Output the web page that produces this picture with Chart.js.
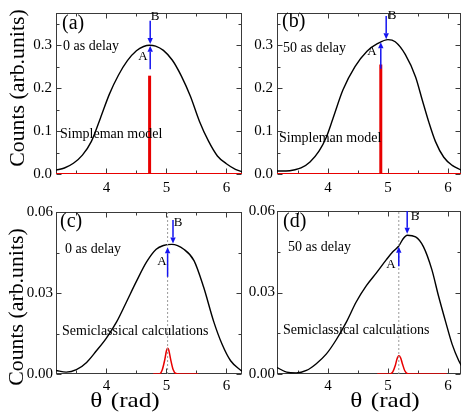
<!DOCTYPE html>
<html>
<head>
<meta charset="utf-8">
<script src="https://cdn.jsdelivr.net/npm/chart.js@4.4.1/dist/chart.umd.min.js"></script>
<style>
  html, body { margin: 0; padding: 0; background: #fff; }
  #fig { position: relative; width: 462px; height: 412px; overflow: hidden;
         font-family: 'Liberation Serif', 'Times New Roman', serif; color: #000; }
  #fig canvas { position: absolute; }
  .t { position: absolute; white-space: nowrap; line-height: 1; transform: translateY(-50%); }
  .note { font-size: 14px; }
  .tag { font-size: 20px; }
  .ab { font-size: 13px; transform: translate(-50%, -50%); }
  .ytitle { font-size: 20px; transform: translate(-50%, -50%) rotate(-90deg) scaleX(1.09); }
  .xtitle { font-size: 21px; transform: translate(-50%, -50%) scaleX(1.2); }
  .xtitle span { margin-right: 7px; }
</style>
</head>
<body>
<div id="fig">
  <canvas id="pa" width="245" height="200" style="left:0;top:0"></canvas>
  <canvas id="pb" width="217" height="200" style="left:245px;top:0"></canvas>
  <canvas id="pc" width="245" height="212" style="left:0;top:200px"></canvas>
  <canvas id="pd" width="217" height="212" style="left:245px;top:200px"></canvas>

  <div class="t ytitle" style="left:17px;top:88px">Counts (arb.units)</div>
  <div class="t ytitle" style="left:16px;top:307px">Counts (arb.units)</div>
  <div class="t xtitle" style="left:125px;top:400px"><span>θ</span>(rad)</div>
  <div class="t xtitle" style="left:385px;top:400px"><span>θ</span>(rad)</div>

  <div class="t tag" style="left:62px;top:22px">(a)</div>
  <div class="t note" style="left:63px;top:46px">0 as delay</div>
  <div class="t note" style="left:60px;top:134px">Simpleman model</div>
  <div class="t ab" style="left:155px;top:15px">B</div>
  <div class="t ab" style="left:143px;top:55px">A</div>

  <div class="t tag" style="left:282px;top:20px">(b)</div>
  <div class="t note" style="left:283px;top:48px">50 as delay</div>
  <div class="t note" style="left:279px;top:138px">Simpleman model</div>
  <div class="t ab" style="left:392px;top:14px">B</div>
  <div class="t ab" style="left:372px;top:50px">A</div>

  <div class="t tag" style="left:60px;top:220px">(c)</div>
  <div class="t note" style="left:65px;top:249px">0 as delay</div>
  <div class="t note" style="left:62px;top:331px">Semiclassical calculations</div>
  <div class="t ab" style="left:178px;top:221px">B</div>
  <div class="t ab" style="left:162px;top:260px">A</div>

  <div class="t tag" style="left:283px;top:220px">(d)</div>
  <div class="t note" style="left:288px;top:247px">50 as delay</div>
  <div class="t note" style="left:283px;top:330px">Semiclassical calculations</div>
  <div class="t ab" style="left:415px;top:215px">B</div>
  <div class="t ab" style="left:391px;top:263px">A</div>
</div>

<script>
'use strict';

/* ---- values ---- */

// (a) Simpleman model, 0 as delay
const THETA_A  = [3.16, 3.3, 3.45, 3.6, 3.75, 3.9, 4.05, 4.2, 4.35, 4.5, 4.62, 4.72, 4.82, 4.95, 5.1, 5.25, 5.4, 5.55, 5.7, 5.85, 6.0, 6.15, 6.27];
const COUNTS_A = [0.009, 0.014, 0.025, 0.044, 0.076, 0.130, 0.186, 0.230, 0.264, 0.287, 0.297, 0.300, 0.298, 0.288, 0.265, 0.228, 0.181, 0.123, 0.077, 0.042, 0.024, 0.011, 0.005];
const SPIKE_A  = [4.72, 0.229];                 // theta, height of the red line
const ARROWS_A = [[4.73, 0.244, 0.299], [4.73, 0.357, 0.303]];   // theta, tail, tip

// (b) Simpleman model, 50 as delay
const THETA_B  = [3.15, 3.3, 3.45, 3.55, 3.7, 3.85, 3.97, 4.08, 4.25, 4.45, 4.65, 4.83, 5.0, 5.12, 5.29, 5.46, 5.57, 5.68, 5.79, 5.93, 6.07, 6.22];
const COUNTS_B = [0.007, 0.007, 0.010, 0.014, 0.028, 0.053, 0.085, 0.128, 0.196, 0.250, 0.286, 0.304, 0.313, 0.308, 0.278, 0.226, 0.173, 0.121, 0.076, 0.039, 0.020, 0.009];
const SPIKE_B  = [4.88, 0.255];
const ARROWS_B = [[4.88, 0.245, 0.307], [4.97, 0.368, 0.314]];

// (c) semiclassical, 0 as delay
const THETA_C  = [3.16, 3.33, 3.5, 3.67, 3.83, 4.0, 4.17, 4.33, 4.5, 4.67, 4.83, 4.95, 5.09, 5.29, 5.46, 5.62, 5.79, 5.93, 6.07, 6.26];
const COUNTS_C = [0.0013, 0.0007, 0.0016, 0.0043, 0.0085, 0.0133, 0.0193, 0.0265, 0.0343, 0.0415, 0.0462, 0.0476, 0.0480, 0.0462, 0.0420, 0.0322, 0.0193, 0.0109, 0.0049, 0.0010];
const THETA_C_RED = [4.78, 4.88, 4.93, 4.97, 5.0, 5.02, 5.04, 5.07, 5.11, 5.16, 5.25, 5.53];
const RED_C       = [0, 0, 0.0015, 0.0050, 0.0085, 0.0095, 0.0088, 0.0055, 0.0018, 0.0002, 0, 0];
const MARK_C   = 5.02;                          // dotted line
const ARROWS_C = [[5.02, 0.036, 0.0469], [5.11, 0.057, 0.0483]];

// (d) semiclassical, 50 as delay
const THETA_D  = [3.14, 3.31, 3.47, 3.64, 3.8, 3.97, 4.14, 4.31, 4.47, 4.64, 4.81, 4.97, 5.08, 5.18, 5.25, 5.32, 5.46, 5.59, 5.73, 5.84, 5.96, 6.07, 6.18, 6.24];
const COUNTS_D = [0.0025, 0.0007, 0.0004, 0.0013, 0.0037, 0.0073, 0.0127, 0.0193, 0.0265, 0.0325, 0.0373, 0.0420, 0.0450, 0.0471, 0.0497, 0.0511, 0.0505, 0.0469, 0.0385, 0.0289, 0.0193, 0.0109, 0.0049, 0.0025];
const THETA_D_RED = [4.82, 5.03, 5.08, 5.12, 5.15, 5.18, 5.21, 5.24, 5.28, 5.33, 5.45, 5.98];
const RED_D       = [0, 0, 0.0008, 0.0030, 0.0055, 0.0067, 0.0060, 0.0038, 0.0012, 0.0001, 0, 0];
const MARK_D   = 5.18;
const ARROWS_D = [[5.18, 0.0397, 0.0468], [5.32, 0.060, 0.0516]];

// axes
const X_TICKS = [4, 5, 6];
const X_LABELS = ['4', '5', '6'];
const X_MINOR = [3.5, 4.5, 5.5];
const Y_TICKS_TOP = [0, 0.1, 0.2, 0.3];
const Y_LABELS_TOP = ['0.0', '0.1', '0.2', '0.3'];
const Y_MINOR_TOP = [0.05, 0.15, 0.25, 0.35];
const Y_TICKS_BOT = [0, 0.03, 0.06];
const Y_LABELS_BOT = ['0.00', '0.03', '0.06'];
const Y_MINOR_BOT = [0.015, 0.045];

/* ---- styling ---- */
const RED = 'rgb(232,0,0)';
const BLUE = 'rgb(20,20,240)';
const FRAME = '#3a3a3a';
const TICK_FONT = { family: "'Liberation Serif', 'Times New Roman', serif", size: 15 };

const pts = (xs, ys) => xs.map((x, i) => ({ x, y: ys[i] }));

function curve(xs, ys, color, width) {
  return { data: pts(xs, ys), showLine: true, borderColor: color, borderWidth: width,
           pointRadius: 0, cubicInterpolationMode: 'monotone', fill: false };
}
function segment(x0, y0, x1, y1, color, width, dash) {
  return { data: [{ x: x0, y: y0 }, { x: x1, y: y1 }], showLine: true, borderColor: color,
           borderWidth: width, borderDash: dash || [], pointRadius: 0, fill: false };
}

// frame + inward ticks on all four sides, and the blue arrows
function panelPlugin(yMajor, yMinor, arrows) {
  return {
    id: 'panel',
    beforeDatasetsDraw(chart) {
      const { ctx, chartArea: a, scales: { x, y } } = chart;
      const L = Math.round(a.left) + 0.5, R = Math.round(a.right) - 0.5;
      const T = Math.round(a.top) + 0.5, B = Math.round(a.bottom) - 0.5;
      ctx.save();
      ctx.strokeStyle = FRAME;
      ctx.lineWidth = 1;
      ctx.strokeRect(L, T, R - L, B - T);
      ctx.beginPath();
      const xt = (vals, len) => vals.forEach(v => {
        const px = Math.round(x.getPixelForValue(v)) + 0.5;
        ctx.moveTo(px, B); ctx.lineTo(px, B - len);
        ctx.moveTo(px, T); ctx.lineTo(px, T + len);
      });
      const yt = (vals, len) => vals.forEach(v => {
        if (v > y.max) return;
        const py = Math.round(y.getPixelForValue(v)) + 0.5;
        ctx.moveTo(L, py); ctx.lineTo(L + len, py);
        ctx.moveTo(R, py); ctx.lineTo(R - len, py);
      });
      xt(X_TICKS, 5); xt(X_MINOR, 3);
      yt(yMajor, 5); yt(yMinor, 3);
      ctx.stroke();
      ctx.restore();
    },
    afterDatasetsDraw(chart) {
      const { ctx, scales: { x, y } } = chart;
      ctx.save();
      ctx.strokeStyle = BLUE;
      ctx.fillStyle = BLUE;
      ctx.lineWidth = 1.5;
      arrows.forEach(([t, tail, tip]) => {
        const px = x.getPixelForValue(t);
        const ya = y.getPixelForValue(tail), yb = y.getPixelForValue(tip);
        const dir = Math.sign(yb - ya), head = 6;
        ctx.beginPath();
        ctx.moveTo(px, ya); ctx.lineTo(px, yb - dir * head);
        ctx.stroke();
        ctx.beginPath();
        ctx.moveTo(px, yb);
        ctx.lineTo(px - 2.7, yb - dir * head);
        ctx.lineTo(px + 2.7, yb - dir * head);
        ctx.closePath();
        ctx.fill();
      });
      ctx.restore();
    },
  };
}

function makePanel(id, p) {
  new Chart(document.getElementById(id), {
    type: 'scatter',
    data: { datasets: p.datasets },
    options: {
      responsive: false,
      animation: false,
      events: [],
      layout: { padding: p.padding },
      plugins: { legend: { display: false }, tooltip: { enabled: false } },
      scales: {
        x: {
          type: 'linear', min: p.xMin, max: p.xMax,
          afterBuildTicks: s => { s.ticks = X_TICKS.map(v => ({ value: v })); },
          afterFit: s => { s.height = p.xHeight; },
          grid: { display: false, drawTicks: false }, border: { display: false },
          ticks: { font: TICK_FONT, color: '#000', padding: p.xPad, maxRotation: 0,
                   callback: v => X_LABELS[X_TICKS.indexOf(v)] },
        },
        y: {
          type: 'linear', min: 0, max: p.yMax,
          afterBuildTicks: s => { s.ticks = p.yTicks.map(v => ({ value: v })); },
          afterFit: s => { s.width = p.yWidth; },
          grid: { display: false, drawTicks: false }, border: { display: false },
          ticks: { font: TICK_FONT, color: '#000', padding: p.yPad,
                   callback: v => p.yLabels[p.yTicks.indexOf(v)] },
        },
      },
    },
    plugins: [panelPlugin(p.yTicks, p.yMinor, p.arrows)],
  });
}

const TOP = { yMax: 0.375, yTicks: Y_TICKS_TOP, yLabels: Y_LABELS_TOP, yMinor: Y_MINOR_TOP, xHeight: 26, xPad: 5 };
const BOT = { yMax: 0.06, yTicks: Y_TICKS_BOT, yLabels: Y_LABELS_BOT, yMinor: Y_MINOR_BOT, xHeight: 38, xPad: 3 };

makePanel('pa', Object.assign({}, TOP, {
  xMin: 3.16, xMax: 6.26, yWidth: 56, yPad: 4,
  padding: { top: 7, right: 3, left: 0, bottom: 0 },
  arrows: ARROWS_A,
  datasets: [
    segment(3.16, 0, 6.26, 0, RED, 2),
    curve(THETA_A, COUNTS_A, '#000', 1.4),
    segment(SPIKE_A[0], 0, SPIKE_A[0], SPIKE_A[1], RED, 3),
  ],
}));

makePanel('pb', Object.assign({}, TOP, {
  xMin: 3.15, xMax: 6.217, yWidth: 32, yPad: 4,
  padding: { top: 7, right: 1, left: 0, bottom: 0 },
  arrows: ARROWS_B,
  datasets: [
    segment(3.15, 0, 6.217, 0, RED, 2),
    curve(THETA_B, COUNTS_B, '#000', 1.4),
    segment(SPIKE_B[0], 0, SPIKE_B[0], SPIKE_B[1], RED, 3),
  ],
}));

makePanel('pc', Object.assign({}, BOT, {
  xMin: 3.16, xMax: 6.26, yWidth: 56, yPad: 3,
  padding: { top: 6, right: 3, left: 0, bottom: 0 },
  arrows: ARROWS_C,
  datasets: [
    segment(MARK_C, 0, MARK_C, 0.06, '#9a9a9a', 1, [2, 2]),
    curve(THETA_C, COUNTS_C, '#000', 1.4),
    curve(THETA_C_RED, RED_C, RED, 1.5),
  ],
}));

makePanel('pd', Object.assign({}, BOT, {
  xMin: 3.15, xMax: 6.217, yWidth: 32, yPad: 2,
  padding: { top: 6, right: 1, left: 0, bottom: 0 },
  arrows: ARROWS_D,
  datasets: [
    segment(MARK_D, 0, MARK_D, 0.06, '#9a9a9a', 1, [2, 2]),
    curve(THETA_D, COUNTS_D, '#000', 1.4),
    curve(THETA_D_RED, RED_D, RED, 1.5),
  ],
}));
</script>
</body>
</html>
